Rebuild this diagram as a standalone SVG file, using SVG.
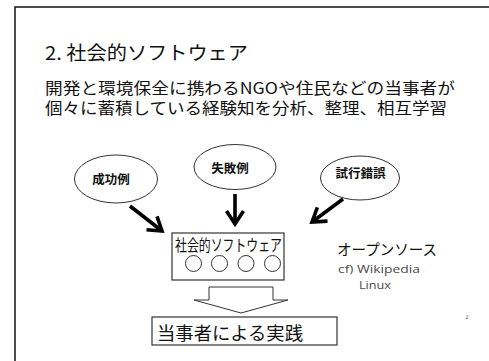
<svg xmlns="http://www.w3.org/2000/svg" width="489" height="361" viewBox="0 0 489 361">
<defs>
<style>
.jp{font-family:"Noto Sans CJK JP","Liberation Sans",sans-serif;fill:#111}
.lat{font-family:"Open Sans","Liberation Sans",sans-serif;fill:#4a4a4a}
.ell{fill:#fff;stroke:#333;stroke-width:1}
.box{fill:#fff;stroke:#333;stroke-width:1.2}
.lbl{font-family:"Noto Sans CJK JP",sans-serif;font-weight:bold;font-size:12.5px;fill:#111;text-anchor:middle}
.arr{stroke:#000;stroke-width:3.6;fill:none}
.dot{fill:#fff;stroke:#333;stroke-width:1}
</style>
<marker id="vhead" markerUnits="userSpaceOnUse" markerWidth="30" markerHeight="30" refX="0" refY="0" orient="auto" overflow="visible">
<path d="M -13 -8.5 L 0 0 L -13 8.5" stroke="#000" stroke-width="3.6" fill="none" stroke-linejoin="miter"/>
</marker>
</defs>
<rect width="489" height="361" fill="#fff"/>
<path d="M 15 361 L 15 7 L 489 7" fill="none" stroke="#111" stroke-width="1.5"/>
<text class="jp" x="45" y="60" font-size="19" textLength="203" lengthAdjust="spacingAndGlyphs">2. 社会的ソフトウェア</text>
<text class="jp" x="45" y="94" font-size="15.5" textLength="410" lengthAdjust="spacingAndGlyphs" fill="#222">開発と環境保全に携わるNGOや住民などの当事者が</text>
<text class="jp" x="45" y="114" font-size="15.5" textLength="402" lengthAdjust="spacingAndGlyphs" fill="#222">個々に蓄積している経験知を分析、整理、相互学習</text>
<g id="connectors">
<line class="arr" x1="130" y1="206" x2="162" y2="231" marker-end="url(#vhead)"/>
<line class="arr" x1="235" y1="194" x2="235" y2="224" marker-end="url(#vhead)"/>
<line class="arr" x1="343" y1="199" x2="312" y2="222" marker-end="url(#vhead)"/>
<polygon points="209,287 273,287 273,300 288,300 241,313 194,300 209,300" fill="#fff" stroke="#333" stroke-width="1"/>
</g>
<g id="success">
<ellipse class="ell" cx="116" cy="179" rx="41.5" ry="24"/>
<text class="lbl" x="111" y="183.5">成功例</text>
</g>
<g id="failure">
<ellipse class="ell" cx="235" cy="167" rx="41" ry="22.5"/>
<text class="lbl" x="230" y="173">失敗例</text>
</g>
<g id="trial">
<ellipse class="ell" cx="360" cy="178" rx="39.5" ry="22"/>
<text class="lbl" x="360.5" y="178">試行錯誤</text>
</g>
<g id="social-software">
<rect class="box" x="172" y="233" width="112" height="47"/>
<text class="jp" x="175" y="251" font-size="16" textLength="107" lengthAdjust="spacingAndGlyphs">社会的ソフトウェア</text>
<circle class="dot" cx="193.5" cy="263.5" r="8"/>
<circle class="dot" cx="219.5" cy="263.5" r="8"/>
<circle class="dot" cx="246" cy="263.5" r="8"/>
<circle class="dot" cx="272.5" cy="263.5" r="8"/>
</g>
<g id="practice">
<rect class="box" x="152" y="317" width="185" height="28"/>
<text class="jp" x="157" y="340" font-size="18" textLength="146" lengthAdjust="spacingAndGlyphs">当事者による実践</text>
</g>
<g id="notes">
<text class="jp" x="337" y="255" font-size="15" textLength="100" lengthAdjust="spacingAndGlyphs" fill="#333">オープンソース</text>
<text class="lat" x="338" y="273" font-size="11.5" textLength="82" lengthAdjust="spacingAndGlyphs">cf) Wikipedia</text>
<text class="lat" x="359" y="289" font-size="11.5" textLength="32" lengthAdjust="spacingAndGlyphs">Linux</text>
<text class="lat" x="465.5" y="319" font-size="5">2</text>
</g>
</svg>
